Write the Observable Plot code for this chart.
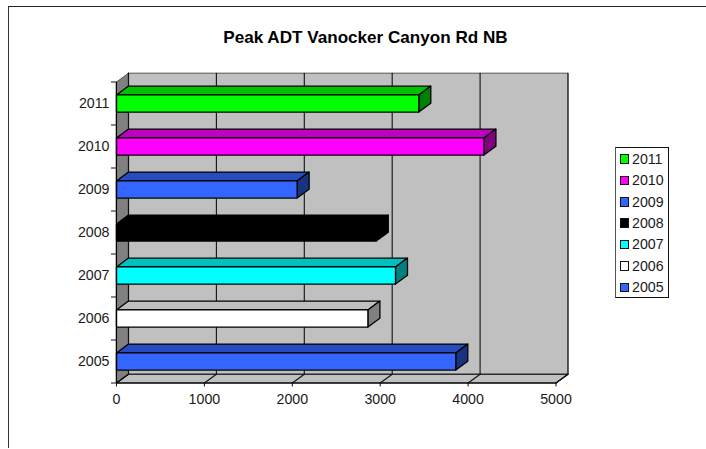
<!DOCTYPE html>
<html>
<head>
<meta charset="utf-8">
<script src="https://cdn.jsdelivr.net/npm/d3@7"></script>
<script src="https://cdn.jsdelivr.net/npm/@observablehq/plot@0.6"></script>
<style>
  html, body { margin: 0; padding: 0; background: #fff; }
  body { position: relative; width: 706px; height: 449px; overflow: hidden; font-family: "Liberation Sans", Arial, sans-serif; color: #000; }
  #frame { position: absolute; left: 8px; top: 6px; width: 698px; height: 442px; border-top: 1.5px solid #222; border-left: 1.5px solid #333; box-sizing: border-box; }
  #title { position: absolute; left: 8px; width: 715px; top: 28.5px; text-align: center; font-weight: bold; font-size: 17.1px; line-height: 18px; white-space: nowrap; }
  #chart { position: absolute; left: 0; top: 0; }
  #chart svg { overflow: visible; display: block; }
  #legend { position: absolute; left: 615px; top: 147px; width: 54px; height: 150.5px; box-sizing: border-box; border: 1px solid #111; border-left: 1.5px solid #555; background: #fff; }
  .row { position: absolute; left: 0; height: 16px; font-size: 14.2px; line-height: 16px; color: #1a1a1a; }
  .sw { position: absolute; left: 3.5px; top: 3.5px; width: 9.5px; height: 9.5px; box-sizing: border-box; border: 1.2px solid #111; }
  .lb { position: absolute; left: 16px; top: 0; }
</style>
</head>
<body>
<div id="frame"></div>
<div id="title"></div>
<div id="chart"></div>
<div id="legend"></div>
<script>
const titleText = "Peak ADT Vanocker Canyon Rd NB";
const years = ["2005", "2006", "2007", "2008", "2009", "2010", "2011"];
const values = [3860, 2860, 3174, 2955, 2055, 4180, 3439];
const faceColors = ["#3366ff", "#ffffff", "#00ffff", "#000000", "#3366ff", "#ff00ff", "#00ff00"];
const topColors = ["#264cbf", "#c0c0c0", "#00c0c0", "#000000", "#264cbf", "#c000c0", "#00c000"];
const sideColors = ["#1a3380", "#808080", "#008080", "#000000", "#1a3380", "#800080", "#008000"];
const xTicks = [0, 1000, 2000, 3000, 4000, 5000];
const xMax = 5000;

// The 3D depth of the box, in data units of the two scales.
const depthX = 136.5;
const depthY = 0.205;
const barPad = 0.3;

const n = years.length;
const poly = (pts, fill, stroke = "#000", strokeWidth = 1.3) =>
  Plot.line(pts.map(([x, y]) => ({x, y})), {x: "x", y: "y", fill, stroke, strokeWidth, curve: "linear-closed"});
const seg = (pts, stroke = "#111", strokeWidth = 1.1) =>
  Plot.line(pts.map(([x, y]) => ({x, y})), {x: "x", y: "y", stroke, strokeWidth});

const marks = [];
// back wall, left wall, floor
marks.push(poly([[depthX, depthY], [xMax + depthX, depthY], [xMax + depthX, n + depthY], [depthX, n + depthY]], "#c0c0c0", "#555", 1));
marks.push(seg([[xMax + depthX, depthY], [xMax + depthX, n + depthY]], "#111", 1));
marks.push(poly([[0, 0], [depthX, depthY], [depthX, n + depthY], [0, n]], "#808080", "#555", 1));
marks.push(poly([[0, 0], [xMax, 0], [xMax + depthX, depthY], [depthX, depthY]], "#c0c0c0", "#000", 1.1));
// gridlines on the back wall and their floor diagonals
for (const t of xTicks.slice(1, -1)) {
  marks.push(seg([[t + depthX, depthY], [t + depthX, n + depthY]]));
}
for (const t of xTicks) {
  marks.push(seg([[t, 0], [t + depthX, depthY]]));
}
marks.push(seg([[depthX, depthY], [depthX, n + depthY]], "#111", 1.2));
// bars
years.forEach((yr, i) => {
  const v = values[i], y0 = i + barPad, y1 = i + 1 - barPad;
  const edge = yr === "2008" ? faceColors[i] : "#000";
  marks.push(poly([[0, y1], [depthX, y1 + depthY], [v + depthX, y1 + depthY], [v, y1]], topColors[i], edge));
  marks.push(poly([[v, y0], [v + depthX, y0 + depthY], [v + depthX, y1 + depthY], [v, y1]], sideColors[i], edge));
  marks.push(poly([[0, y0], [v, y0], [v, y1], [0, y1]], faceColors[i], edge));
});
// axes
marks.push(Plot.axisX({ticks: xTicks, tickSize: 4, tickPadding: 7, tickFormat: d => String(d), stroke: "#111", color: "#1a1a1a", fontSize: 14.2, label: null}));
marks.push(Plot.axisY({ticks: d3.range(0, n + 1), tickSize: 5, tickFormat: () => "", stroke: "#111", label: null}));
marks.push(Plot.axisY({ticks: years.map((_, i) => i + 0.5), tickSize: 0, tickPadding: 7, tickFormat: d => years[Math.floor(d)], color: "#1a1a1a", fontSize: 14.2, label: null}));
marks.push(seg([[0, 0], [xMax, 0]], "#000", 1.1));
marks.push(seg([[0, 0], [0, n]], "#000", 1.1));

const plot = Plot.plot({
  width: 706,
  height: 449,
  marginLeft: 116,
  marginRight: 150.5,
  marginTop: 81.5,
  marginBottom: 66.5,
  style: {background: "transparent", fontFamily: "'Liberation Sans', Arial, sans-serif", fontSize: "14.2px"},
  x: {domain: [0, xMax], axis: null},
  y: {domain: [0, n], axis: null},
  marks
});
document.getElementById("chart").appendChild(plot);
document.getElementById("title").textContent = titleText;

const legend = document.getElementById("legend");
const rowStep = 21.45;
years.slice().reverse().forEach((yr, k) => {
  const i = n - 1 - k;
  const row = document.createElement("div");
  row.className = "row";
  row.style.top = (2.6 + k * rowStep) + "px";
  const sw = document.createElement("div");
  sw.className = "sw";
  sw.style.background = faceColors[i];
  const lb = document.createElement("div");
  lb.className = "lb";
  lb.textContent = yr;
  row.append(sw, lb);
  legend.appendChild(row);
});
</script>
</body>
</html>
